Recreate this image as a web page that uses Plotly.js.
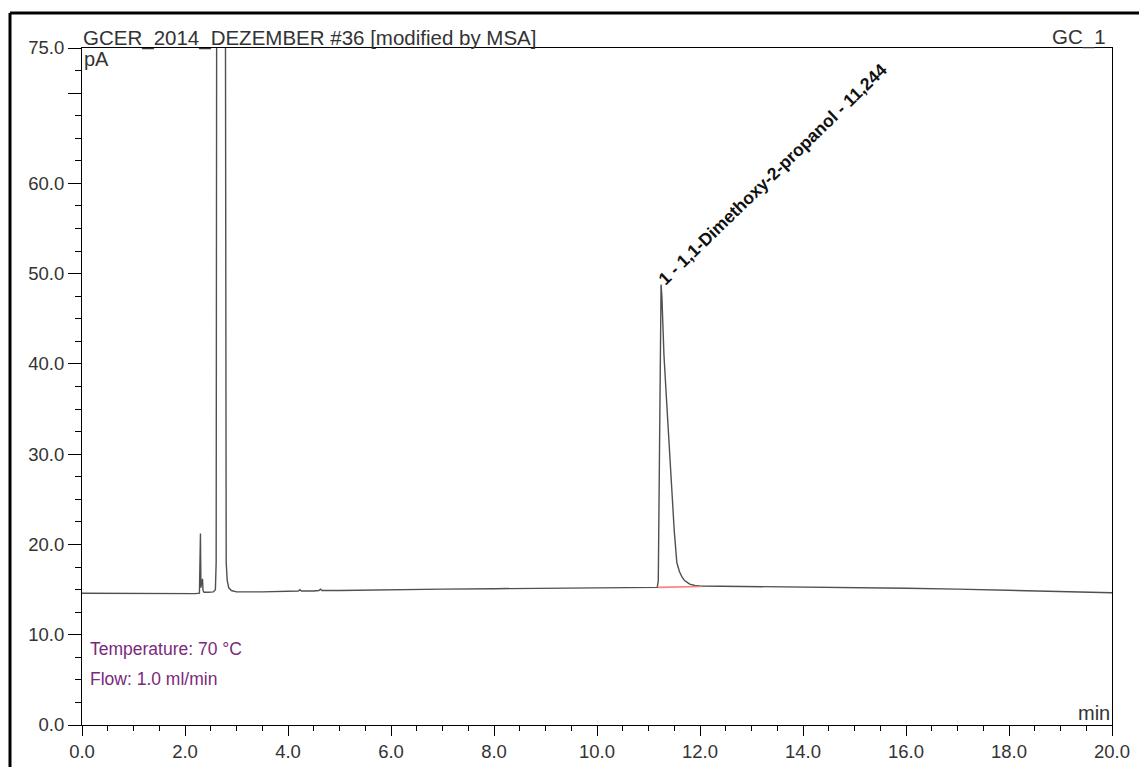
<!DOCTYPE html>
<html>
<head>
<meta charset="utf-8">
<script src="https://cdn.plot.ly/plotly-3.0.1.min.js"></script>
<style>html,body{margin:0;padding:0;background:#fff;}#chart{width:1139px;height:767px;}</style>
</head>
<body>
<div id="chart"></div>
<script>
// Retention time (min)
const timeMin = [0, 1, 2, 2.2, 2.28, 2.29, 2.30, 2.305, 2.31, 2.32, 2.33, 2.34, 2.35, 2.37, 2.45, 2.55, 2.59, 2.605, 2.615, 2.63, 2.70, 2.77, 2.785, 2.79, 2.80, 2.82, 2.85, 2.9, 3.0, 3.5, 4.0, 4.2, 4.23, 4.26, 4.5, 4.6, 4.63, 4.66, 5, 6, 7, 8, 9, 10, 11, 11.17, 11.19, 11.21, 11.23, 11.244, 11.26, 11.3, 11.35, 11.4, 11.45, 11.5, 11.55, 11.6, 11.65, 11.7, 11.8, 11.9, 12.0, 13, 14, 15, 16, 17, 18, 19, 20];
// Detector signal (pA)
const signalPA = [14.6, 14.55, 14.5, 14.55, 14.6, 17, 21.2, 18, 15.2, 16.0, 15.5, 16.2, 14.9, 14.7, 14.7, 14.75, 15.0, 18, 80, 400, 900, 400, 80, 23.3, 18, 16, 15.2, 14.9, 14.75, 14.75, 14.8, 14.85, 15.0, 14.85, 14.85, 14.9, 15.05, 14.9, 14.9, 15.0, 15.05, 15.1, 15.15, 15.2, 15.25, 15.25, 16, 30, 44, 48.8, 47.5, 41, 36, 31, 27, 21.5, 18, 17.0, 16.4, 16.0, 15.6, 15.45, 15.4, 15.35, 15.3, 15.25, 15.15, 15.05, 14.9, 14.8, 14.65];
// Integration baseline of peak 1
const baseTime = [11.18, 12.02];
const baseSignal = [15.25, 15.35];
// Peak
const peakName = "1 - 1,1-Dimethoxy-2-propanol - 11,244";
const peakTime = 11.244;
const peakHeight = 48.8;
// Axis ticks
const xTickVals = [0, 2, 4, 6, 8, 10, 12, 14, 16, 18, 20];
const xTickText = ["0.0", "2.0", "4.0", "6.0", "8.0", "10.0", "12.0", "14.0", "16.0", "18.0", "20.0"];
const yTickVals = [0, 10, 20, 30, 40, 50, 60, 70, 75];
const yTickText = ["0.0", "10.0", "20.0", "30.0", "40.0", "50.0", "60.0", "", "75.0"];
// Texts
const chartTitle = "GCER_2014_DEZEMBER #36 [modified by MSA]";
const channelName = "GC_1";
const yUnit = "pA";
const xUnit = "min";
const infoLines = ["Temperature: 70 °C", "Flow: 1.0 ml/min"];

const FONT = "Liberation Sans, Arial, sans-serif";

const traces = [
  {x: timeMin, y: signalPA, type: "scatter", mode: "lines", line: {color: "#505050", width: 1.4}, hoverinfo: "skip"},
  {x: baseTime, y: baseSignal, type: "scatter", mode: "lines", line: {color: "#ff7f7f", width: 1.6}, hoverinfo: "skip"}
];

const layout = {
  width: 1139, height: 767,
  margin: {l: 82, r: 27, t: 48, b: 42},
  paper_bgcolor: "#fff", plot_bgcolor: "#fff",
  showlegend: false,
  font: {family: FONT, size: 18, color: "#333"},
  xaxis: {
    range: [0, 20], tickmode: "array", tickvals: xTickVals, ticktext: xTickText,
    showgrid: false, zeroline: false, showline: true, linecolor: "#000", linewidth: 1, mirror: true,
    ticks: "outside", ticklen: 10, tickcolor: "#000", tickwidth: 1,
    minor: {dtick: 0.5, tick0: 0, ticks: "outside", ticklen: 5, tickcolor: "#000", showgrid: false},
    tickfont: {family: FONT, size: 18.5, color: "#333"}, fixedrange: true
  },
  yaxis: {
    range: [0, 75], tickmode: "array", tickvals: yTickVals, ticktext: yTickText,
    showgrid: false, zeroline: false, showline: true, linecolor: "#000", linewidth: 1, mirror: true,
    ticks: "outside", ticklen: 13, tickcolor: "#000", tickwidth: 1,
    minor: {dtick: 2.5, tick0: 0, ticks: "outside", ticklen: 6, tickcolor: "#000", showgrid: false},
    tickfont: {family: FONT, size: 18.5, color: "#333"}, fixedrange: true
  },
  shapes: [
    {type: "line", xref: "paper", yref: "paper", x0: -0.0699, x1: -0.0699, y0: -0.2, y1: 1.0517, line: {color: "#000", width: 3}},
    {type: "line", xref: "paper", yref: "paper", x0: -0.0699, x1: 1.2, y0: 1.0517, y1: 1.0517, line: {color: "#000", width: 3}}
  ],
  annotations: [
    {xref: "paper", yref: "paper", x: 0, y: 1, xanchor: "left", yanchor: "bottom", xshift: 0, yshift: -3, text: chartTitle, showarrow: false, borderpad: 0, font: {family: FONT, size: 20.5, color: "#333"}},
    {xref: "paper", yref: "paper", x: 0.995, y: 1, xanchor: "right", yanchor: "bottom", yshift: -2, text: channelName, showarrow: false, borderpad: 0, font: {family: FONT, size: 20.5, color: "#333"}},
    {xref: "paper", yref: "paper", x: 0, y: 1, xanchor: "left", yanchor: "top", xshift: 1, yshift: 1, text: yUnit, showarrow: false, borderpad: 0, font: {family: FONT, size: 20, color: "#333"}},
    {xref: "paper", yref: "paper", x: 1, y: 0, xanchor: "right", yanchor: "bottom", xshift: -1, yshift: 0, text: xUnit, showarrow: false, borderpad: 0, font: {family: FONT, size: 20, color: "#333"}},
    {xref: "paper", yref: "paper", x: 0, y: 0, xanchor: "left", yanchor: "middle", xshift: 7, yshift: 76, text: infoLines[0], showarrow: false, borderpad: 0, font: {family: FONT, size: 17.5, color: "#7a2a7a"}},
    {xref: "paper", yref: "paper", x: 0, y: 0, xanchor: "left", yanchor: "middle", xshift: 7, yshift: 46, text: infoLines[1], showarrow: false, borderpad: 0, font: {family: FONT, size: 17.5, color: "#7a2a7a"}},
    {xref: "x", yref: "y", x: peakTime, y: peakHeight, xanchor: "left", yanchor: "bottom", xshift: -8, yshift: -6, textangle: -44, text: "<b>" + peakName + "</b>", showarrow: false, borderpad: 0, font: {family: FONT, size: 17.5, color: "#111"}}
  ]
};

Plotly.newPlot("chart", traces, layout, {displayModeBar: false, staticPlot: true});
</script>
</body>
</html>
